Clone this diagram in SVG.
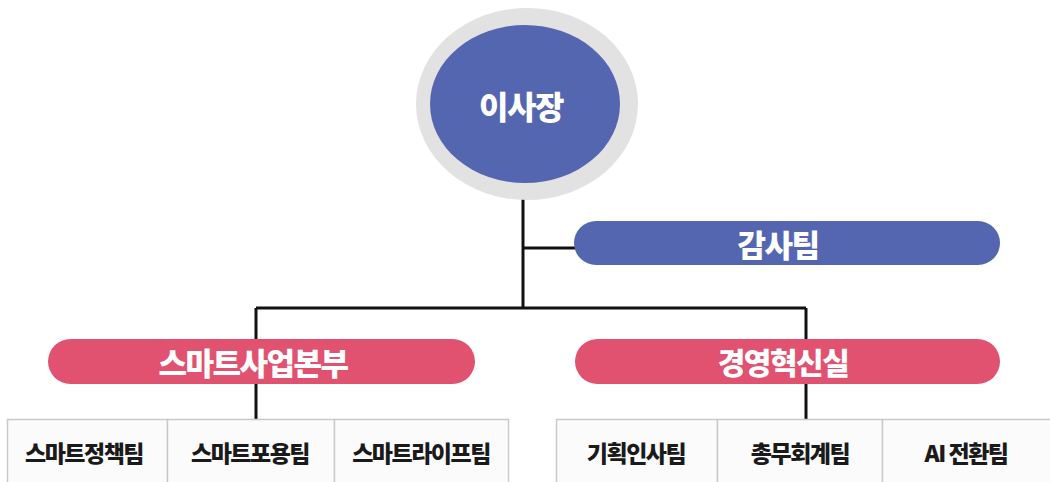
<svg xmlns="http://www.w3.org/2000/svg" width="1050" height="482" viewBox="0 0 1050 482">
<style>
.conn{stroke:#111;stroke-width:3;fill:none}
.pillB{fill:#5566b1}
.pillR{fill:#e0526f}
.wt{fill:#fff;font-family:"Noto Sans CJK KR","Noto Sans",sans-serif;font-weight:900;text-anchor:middle;dominant-baseline:central}
.cell{fill:#fbfbfb;stroke:#c9c9c9;stroke-width:1.5}
.bt{fill:#1a1a1a;font-family:"Noto Sans CJK KR","Noto Sans",sans-serif;font-weight:900;font-size:23px;text-anchor:middle;dominant-baseline:central;letter-spacing:-1.5px}
</style>
<rect width="1050" height="482" fill="#fff"/>
<g id="connectors">
<path class="conn" d="M523 198 V308"/>
<path class="conn" d="M523 248 H578"/>
<path class="conn" d="M256 308 H806"/>
<path class="conn" d="M256 308 V340"/>
<path class="conn" d="M806 308 V340"/>
<path class="conn" d="M256 383 V420"/>
<path class="conn" d="M806 383 V420"/>
</g>
<g id="node-chairman">
<ellipse cx="527" cy="104" rx="111" ry="96" fill="#e2e2e2"/>
<ellipse cx="525" cy="104" rx="95" ry="79" fill="#5566b1"/>
<text class="wt" x="521" y="105" font-size="32" letter-spacing="-1.5">이사장</text>
</g>
<g id="node-audit">
<rect class="pillB" x="574" y="221" width="426" height="44" rx="22"/>
<text class="wt" x="778" y="243" font-size="31" letter-spacing="-1.5">감사팀</text>
</g>
<g id="node-smart">
<rect class="pillR" x="48" y="339" width="427" height="45" rx="22.5"/>
<text class="wt" x="253" y="361" font-size="31" letter-spacing="-1.5">스마트사업본부</text>
</g>
<g id="node-mgmt">
<rect class="pillR" x="575" y="339" width="425" height="45" rx="22.5"/>
<text class="wt" x="783" y="361" font-size="30" letter-spacing="-1.5">경영혁신실</text>
</g>
<g id="node-smart-policy">
<rect class="cell" x="7.5" y="419.5" width="160" height="70"/>
<text class="bt" x="84" y="452">스마트정책팀</text>
</g>
<g id="node-smart-inclusion">
<rect class="cell" x="167.5" y="419.5" width="167" height="70"/>
<text class="bt" x="250" y="452">스마트포용팀</text>
</g>
<g id="node-smart-life">
<rect class="cell" x="334.5" y="419.5" width="174" height="70"/>
<text class="bt" x="421" y="452">스마트라이프팀</text>
</g>
<g id="node-planning">
<rect class="cell" x="556.5" y="419.5" width="161" height="70"/>
<text class="bt" x="636" y="452">기획인사팀</text>
</g>
<g id="node-general">
<rect class="cell" x="717.5" y="419.5" width="165" height="70"/>
<text class="bt" x="800" y="452">총무회계팀</text>
</g>
<g id="node-ai">
<rect class="cell" x="882.5" y="419.5" width="180" height="70"/>
<text class="bt" x="966" y="452">AI 전환팀</text>
</g>
</svg>
